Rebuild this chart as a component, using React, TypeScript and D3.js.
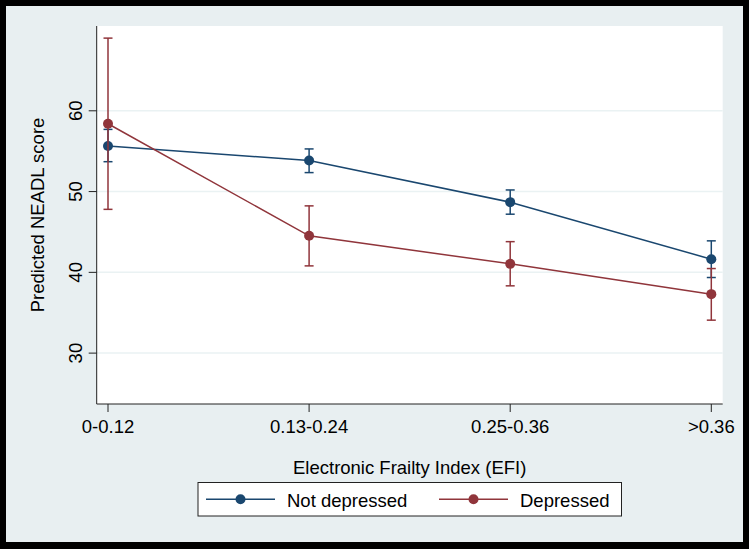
import React from "react";
import * as d3 from "d3";

const categories = ["0-0.12", "0.13-0.24", "0.25-0.36", ">0.36"];
const notDepMean = [55.65, 53.84, 48.69, 41.63];
const notDepLow = [53.7, 52.35, 47.2, 39.36];
const notDepHigh = [57.7, 55.28, 50.2, 43.9];
const depMean = [58.4, 44.52, 41.05, 37.3];
const depLow = [47.8, 40.8, 38.33, 34.08];
const depHigh = [69.0, 48.23, 43.8, 40.47];
const yTicks = [30, 40, 50, 60];
const seriesNames = ["Not depressed", "Depressed"];

const W = 749;
const H = 549;
const FONT = "'Liberation Sans', Arial, Helvetica, sans-serif";
const BLUE = "#1a476f";
const RED = "#90353b";

export default function App() {
  const plotL = 96.7, plotR = 722.7, plotT = 26, plotB = 404;
  const x = d3.scalePoint<string>().domain(categories).range([108, 711.3]);
  const y = d3.scaleLinear().domain([23.7, 70.5]).range([plotB, plotT]);
  const line = d3
    .line<number>()
    .x((_, i) => x(categories[i]) as number)
    .y((d) => y(d));

  const series = [
    { name: seriesNames[0], mean: notDepMean, low: notDepLow, high: notDepHigh, color: BLUE },
    { name: seriesNames[1], mean: depMean, low: depLow, high: depHigh, color: RED },
  ];

  const cap = 4.5;

  return (
    <svg
      width={W}
      height={H}
      style={{ position: "absolute", left: 0, top: 0, display: "block" }}
      fontFamily={FONT}
    >
      <rect x={0} y={0} width={W} height={H} fill="#000" />
      <rect x={6} y={6} width={737} height={536} fill="#e8eff1" />
      <rect x={plotL} y={plotT} width={plotR - plotL} height={plotB - plotT} fill="#fff" />
      {yTicks.map((t) => (
        <line key={"g" + t} x1={plotL} x2={plotR} y1={y(t)} y2={y(t)} stroke="#eaf2f3" strokeWidth={1.5} />
      ))}
      {/* axes */}
      <line x1={plotL} x2={plotL} y1={plotT} y2={plotB} stroke="#222" strokeWidth={1} />
      <line x1={plotL} x2={plotR} y1={plotB} y2={plotB} stroke="#222" strokeWidth={1} />
      {yTicks.map((t) => (
        <g key={"yt" + t}>
          <line x1={plotL - 8} x2={plotL} y1={y(t)} y2={y(t)} stroke="#222" strokeWidth={1} />
          <text
            transform={`translate(82,${y(t)}) rotate(-90)`}
            textAnchor="middle"
            fontSize={18.5}
            fill="#000"
          >
            {t}
          </text>
        </g>
      ))}
      {categories.map((c) => (
        <g key={"xt" + c}>
          <line x1={x(c)} x2={x(c)} y1={plotB} y2={plotB + 8} stroke="#222" strokeWidth={1} />
          <text x={x(c)} y={432.5} textAnchor="middle" fontSize={18.5} fill="#000">
            {c}
          </text>
        </g>
      ))}
      <text x={(plotL + plotR) / 2} y={474} textAnchor="middle" fontSize={18.5} fill="#000">
        Electronic Frailty Index (EFI)
      </text>
      <text
        transform={`translate(44,${(plotT + plotB) / 2}) rotate(-90)`}
        textAnchor="middle"
        fontSize={18.5}
        fill="#000"
      >
        Predicted NEADL score
      </text>

      {/* series */}
      {series.map((s) => (
        <g key={s.name}>
          {s.mean.map((m, i) => {
            const cx = x(categories[i]) as number;
            return (
              <g key={i}>
                <line x1={cx} x2={cx} y1={y(s.low[i])} y2={y(s.high[i])} stroke={s.color} strokeWidth={1.5} />
                <line x1={cx - cap} x2={cx + cap} y1={y(s.low[i])} y2={y(s.low[i])} stroke={s.color} strokeWidth={1.5} />
                <line x1={cx - cap} x2={cx + cap} y1={y(s.high[i])} y2={y(s.high[i])} stroke={s.color} strokeWidth={1.5} />
              </g>
            );
          })}
          <path d={line(s.mean) || ""} fill="none" stroke={s.color} strokeWidth={1.5} />
          {s.mean.map((m, i) => (
            <circle key={"c" + i} cx={x(categories[i]) as number} cy={y(m)} r={5} fill={s.color} />
          ))}
        </g>
      ))}

      {/* legend */}
      <rect x={198} y={482.5} width={423.5} height={33.5} fill="#fff" stroke="#222" strokeWidth={1} />
      {series.map((s, i) => {
        const lx = i === 0 ? 206 : 439;
        const tx = i === 0 ? 287 : 520;
        return (
          <g key={"lg" + i}>
            <line x1={lx} x2={lx + 69} y1={499.3} y2={499.3} stroke={s.color} strokeWidth={1.5} />
            <circle cx={lx + 34.5} cy={499.3} r={5} fill={s.color} />
            <text x={tx} y={506.5} fontSize={18.5} fill="#000">
              {s.name}
            </text>
          </g>
        );
      })}
    </svg>
  );
}
